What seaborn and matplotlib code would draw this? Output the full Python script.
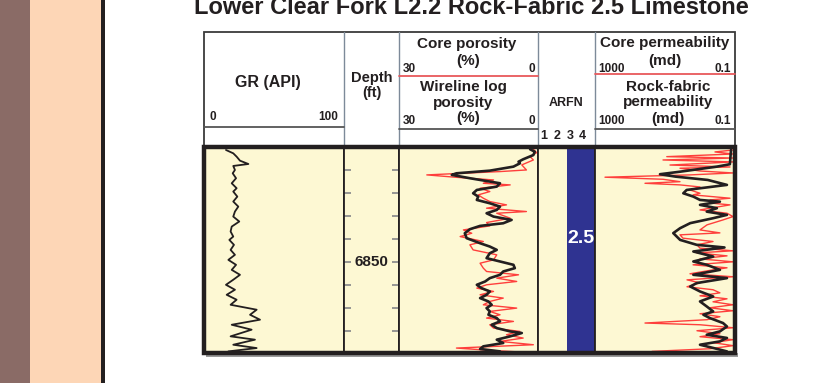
import matplotlib
matplotlib.use("Agg")
import matplotlib.pyplot as plt
from matplotlib.patches import Rectangle
import seaborn as sns

TITLE = "Lower Clear Fork L2.2 Rock-Fabric 2.5 Limestone"

# depth window (ft) and depth-track ticks
DEPTH_TOP = 6840.0
DEPTH_BASE = 6857.94
depth_ticks = [6842, 6844, 6846, 6848, 6850, 6852, 6854, 6856]
depth_label = 6850

# gamma ray (API)
gr_depth = [6840.26, 6840.55, 6840.84, 6841.19, 6841.48, 6841.65, 6842.00, 6842.29, 6842.72,
            6843.16, 6843.59, 6843.88, 6844.32, 6844.75, 6845.19, 6845.62, 6846.06, 6846.49,
            6846.93, 6847.36, 6847.80, 6848.09, 6848.52, 6848.96, 6849.39, 6849.83, 6850.26,
            6850.70, 6851.13, 6851.56, 6852.00, 6852.43, 6852.87, 6853.30, 6853.74, 6854.17,
            6854.61, 6855.04, 6855.48, 6855.91, 6856.49, 6856.78, 6857.22, 6857.51, 6857.80]
gr_api = [15.7, 20.9, 23.3, 25.7, 31.7, 20.9, 22.1, 20.5, 22.9,
          19.8, 23.3, 20.9, 23.8, 20.9, 24.5, 22.1, 20.9, 25.2,
          19.8, 19.0, 20.9, 18.1, 21.4, 19.0, 22.1, 17.4, 22.9,
          19.8, 25.7, 20.9, 15.7, 22.1, 16.2, 23.3, 19.0, 37.6,
          32.9, 40.0, 19.8, 34.0, 19.0, 36.4, 20.9, 37.6, 17.4]

# wireline log porosity (%)
log_por_depth = [6840.20, 6840.41, 6840.70, 6841.07, 6841.28, 6841.42, 6841.71, 6842.06, 6842.29,
                 6842.43, 6842.72, 6843.01, 6843.16, 6843.45, 6843.74, 6844.03, 6844.32, 6844.61,
                 6844.90, 6845.19, 6845.48, 6845.77, 6846.06, 6846.35, 6846.64, 6846.87, 6847.16,
                 6847.51, 6847.94, 6848.38, 6848.67, 6848.96, 6849.25, 6849.68, 6849.97, 6850.26,
                 6850.55, 6850.84, 6851.13, 6851.42, 6851.71, 6852.00, 6852.29, 6852.58, 6852.87,
                 6853.16, 6853.45, 6853.74, 6854.03, 6854.32, 6854.61, 6854.90, 6855.19, 6855.48,
                 6855.77, 6856.06, 6856.20, 6856.49, 6856.78, 6857.07, 6857.36, 6857.59, 6857.80]
log_por = [1.7, 0.7, 1.0, 3.2, 4.2, 3.9, 5.3, 10.4, 17.6,
           18.6, 14.7, 10.4, 8.2, 8.9, 13.2, 14.0, 12.9, 13.2,
           10.4, 8.2, 8.9, 11.1, 9.6, 5.7, 7.5, 12.5, 14.7,
           15.8, 15.4, 12.5, 10.4, 8.9, 10.4, 11.1, 8.2, 5.3,
           5.0, 7.5, 8.2, 10.4, 11.4, 13.2, 12.2, 10.4, 11.1,
           12.5, 10.7, 10.0, 11.1, 10.4, 10.7, 8.9, 8.2, 10.0,
           8.9, 6.0, 3.5, 6.0, 8.9, 7.5, 11.8, 12.5, 8.2]

# core porosity (%)
core_por_depth = [6840.20, 6840.49, 6840.84, 6841.13, 6841.56, 6842.00, 6842.14, 6842.43, 6842.64,
                  6842.87, 6843.16, 6843.30, 6843.59, 6843.88, 6844.17, 6844.46, 6844.75, 6845.04,
                  6845.33, 6845.62, 6845.77, 6846.20, 6846.58, 6846.87, 6847.22, 6847.51, 6847.80,
                  6848.23, 6848.52, 6848.96, 6849.39, 6849.83, 6850.12, 6850.55, 6850.84, 6851.13,
                  6851.42, 6851.71, 6852.00, 6852.29, 6852.58, 6852.87, 6853.16, 6853.45, 6853.74,
                  6854.03, 6854.32, 6854.61, 6854.90, 6855.19, 6855.48, 6855.77, 6856.06, 6856.35,
                  6856.64, 6856.93, 6857.22, 6857.51, 6857.71, 6857.86]
core_por = [1.0, 0.3, 1.7, 1.0, 3.5, 2.5, 8.2, 24.0, 17.6,
            9.6, 11.8, 6.0, 12.5, 10.4, 12.9, 11.8, 10.4, 6.8,
            11.1, 2.5, 8.9, 6.0, 11.1, 10.4, 16.1, 14.3, 16.8,
            11.8, 14.7, 14.0, 8.9, 9.6, 12.5, 11.8, 11.1, 4.2,
            8.9, 4.6, 11.1, 13.2, 9.6, 12.5, 7.5, 10.4, 11.8,
            4.6, 10.4, 8.2, 11.1, 5.3, 10.4, 9.6, 3.9, 6.8,
            3.2, 8.2, 1.0, 17.6, 10.4, 3.5]

# rock-fabric permeability (md)
rf_perm_depth = [6840.26, 6841.50, 6841.71, 6842.15, 6842.37, 6842.58, 6842.87, 6843.30, 6843.74,
                 6844.03, 6844.32, 6844.61, 6844.76, 6845.04, 6845.33, 6845.63, 6845.91, 6846.20,
                 6846.63, 6847.07, 6847.50, 6848.09, 6848.52, 6848.75, 6849.10, 6849.54, 6849.97,
                 6850.26, 6850.70, 6851.13, 6851.42, 6851.85, 6852.15, 6852.58, 6853.02, 6853.45,
                 6853.89, 6854.32, 6854.61, 6854.90, 6855.33, 6855.63, 6856.06, 6856.35, 6856.63,
                 6856.93, 6857.22, 6857.50, 6857.80]
rf_perm = [0.13, 0.14, 0.33, 3.7, 13.9, 5.0, 0.6, 0.17, 2.4,
           3.0, 1.55, 1.0, 0.27, 1.0, 0.33, 0.64, 0.17, 0.42,
           1.9, 3.7, 5.8, 3.7, 1.24, 0.2, 1.55, 0.42, 1.55,
           0.64, 0.27, 1.55, 0.17, 1.24, 1.9, 1.0, 0.42, 1.0,
           0.64, 0.42, 0.8, 0.52, 0.22, 0.17, 0.27, 0.64, 0.17,
           0.27, 1.0, 0.42, 0.17]

# core permeability (md)
core_perm_depth = [6840.26, 6840.43, 6840.61, 6840.84, 6840.96, 6841.13, 6841.30, 6841.57, 6841.74,
                   6841.85, 6842.09, 6842.26, 6842.43, 6842.63, 6842.81, 6843.02, 6843.16, 6843.30,
                   6843.48, 6843.74, 6844.03, 6844.17, 6844.46, 6844.61, 6844.90, 6845.04, 6845.48,
                   6845.77, 6846.06, 6846.35, 6846.78, 6847.22, 6847.48, 6847.65, 6847.94, 6848.23,
                   6848.52, 6848.81, 6849.04, 6849.22, 6849.48, 6849.74, 6850.00, 6850.26, 6850.52,
                   6850.70, 6851.04, 6851.30, 6851.57, 6851.83, 6852.17, 6852.43, 6852.70, 6852.96,
                   6853.22, 6853.48, 6853.74, 6854.00, 6854.26, 6854.52, 6854.78, 6855.04, 6855.33,
                   6855.48, 6855.74, 6856.00, 6856.26, 6856.52, 6856.78, 6857.04, 6857.30, 6857.57,
                   6857.80, 6857.91]
core_perm = [0.114, 0.373, 0.114, 8.9, 0.114, 11.4, 0.114, 7.2, 0.139,
             3.73, 1.0, 0.114, 1.93, 518.0, 11.4, 3.73, 37.3, 3.73,
             1.0, 1.93, 1.0, 1.58, 0.139, 0.518, 0.425, 0.139, 1.0,
             0.169, 0.114, 0.22, 0.63, 1.0, 0.27, 3.73, 3.06, 0.425,
             1.22, 1.0, 0.114, 1.22, 0.169, 1.0, 0.114, 1.58, 0.169,
             0.425, 1.93, 0.114, 2.35, 1.0, 2.35, 0.425, 0.27, 1.0,
             0.169, 0.425, 0.114, 0.518, 0.114, 1.0, 0.27, 0.63, 37.3,
             1.0, 0.114, 1.22, 0.27, 1.0, 0.114, 0.425, 0.114, 0.518,
             23.5, 1.0]

# rock-fabric number for the interval
arfn_value = 2.5
arfn_scale = [1, 2, 3, 4]

# colours
INK = "#231f20"
PANEL = "#fdf8d3"
RED = "#ff2b2b"
CORE_LINE = "#e8585b"
BAR = "#2f3391"

sns.set_theme(style="white")
plt.rcParams["font.family"] = ["Liberation Sans", "DejaVu Sans"]

W, H = 822, 383
fig = plt.figure(figsize=(W / 100, H / 100), dpi=100)


def frac(x0, y0, x1, y1):
    return [x0 / W, 1 - y1 / H, (x1 - x0) / W, (y1 - y0) / H]


# track edges (pixels)
X_GR, X_DEP, X_POR, X_ARF, X_PRM, X_END = 204, 344, 399, 538, 595, 735
Y_HEAD, Y_DATA, Y_BASE = 32, 147, 353

# ---- page background, title and header block ----
bg = fig.add_axes([0, 0, 1, 1], zorder=0)
bg.set_xlim(0, W)
bg.set_ylim(H, 0)
bg.axis("off")
bg.add_patch(Rectangle((0, 0), 30, H, color="#8a6b66", lw=0))
bg.add_patch(Rectangle((30, 0), 71, H, color="#fdd6b6", lw=0))
bg.add_patch(Rectangle((101, 0), 3.5, H, color=INK, lw=0))
bg.text(471, 14.5, TITLE, ha="center", va="baseline", fontsize=17,
        fontweight="bold", color=INK)

bg.add_patch(Rectangle((X_GR, Y_HEAD), X_END - X_GR, Y_DATA - Y_HEAD,
                       facecolor="white", edgecolor="#3a3a3a", lw=1.3))
for xd in (X_DEP, X_POR, X_ARF, X_PRM):
    bg.plot([xd, xd], [Y_HEAD, Y_DATA], color="#7d8a99", lw=1)
bg.plot([X_GR, X_DEP], [127, 127], color="#555555", lw=1.3)
bg.plot([X_POR, X_ARF], [129, 129], color="#555555", lw=1.3)
bg.plot([X_PRM, X_END], [129.3, 129.3], color="#555555", lw=1.3)
bg.plot([X_POR, X_ARF], [75.7, 75.7], color=CORE_LINE, lw=1.3)
bg.plot([X_PRM, X_END], [74.3, 74.3], color=CORE_LINE, lw=1.3)

lab = dict(fontweight="bold", color=INK, va="center")
big, small = 11, 8.5
bg.text(268, 83, "GR (API)", ha="center", fontsize=11.5, **lab)
bg.text(209, 117, "0", ha="left", fontsize=small, **lab)
bg.text(338, 117, "100", ha="right", fontsize=small, **lab)

bg.text(372, 78, "Depth", ha="center", fontsize=10.5, **lab)
bg.text(372, 92.5, "(ft)", ha="center", fontsize=10.5, **lab)

bg.text(467, 44, "Core porosity", ha="center", fontsize=big, **lab)
bg.text(468, 61.5, "(%)", ha="center", fontsize=big, **lab)
bg.text(403, 69.5, "30", ha="left", fontsize=small, **lab)
bg.text(535, 69.5, "0", ha="right", fontsize=small, **lab)
bg.text(463, 87, "Wireline log", ha="center", fontsize=big, **lab)
bg.text(463, 103.5, "porosity", ha="center", fontsize=big, **lab)
bg.text(468, 118, "(%)", ha="center", fontsize=big, **lab)
bg.text(403, 120.5, "30", ha="left", fontsize=small, **lab)
bg.text(535, 120.5, "0", ha="right", fontsize=small, **lab)

bg.text(566.5, 102.5, "ARFN", ha="center", fontsize=9, **lab)
for xv, n in zip((544, 557.5, 570, 582.5), arfn_scale):
    bg.text(xv, 136, str(n), ha="center", fontsize=9, **lab)

bg.text(664.5, 43.5, "Core permeability", ha="center", fontsize=big, **lab)
bg.text(665, 61, "(md)", ha="center", fontsize=big, **lab)
bg.text(598, 69.5, "1000", ha="left", fontsize=small, **lab)
bg.text(731, 69.5, "0.1", ha="right", fontsize=small, **lab)
bg.text(668, 87, "Rock-fabric", ha="center", fontsize=big, **lab)
bg.text(668, 102, "permeability", ha="center", fontsize=big, **lab)
bg.text(668, 119.5, "(md)", ha="center", fontsize=big, **lab)
bg.text(598, 120.5, "1000", ha="left", fontsize=small, **lab)
bg.text(731, 120.5, "0.1", ha="right", fontsize=small, **lab)

# soft shadow under the log panel
bg.add_patch(Rectangle((X_GR + 2, Y_BASE), X_END - X_GR + 1, 3.5, color="#9a9a9a", lw=0))


# ---- data tracks ----
def track(x0, x1):
    ax = fig.add_axes(frac(x0, Y_DATA, x1, Y_BASE), zorder=1)
    ax.set_facecolor(PANEL)
    for s in ax.spines.values():
        s.set_color(INK)
        s.set_linewidth(1.3)
    return ax


def finish(ax):
    ax.set_ylim(DEPTH_BASE, DEPTH_TOP)
    ax.set_xlabel("")
    ax.set_ylabel("")
    ax.set_xticks([])
    ax.set_yticks([])
    if ax.get_legend() is not None:
        ax.get_legend().remove()


line_kw = dict(orient="y", sort=False, estimator=None)

# gamma ray
ax_gr = track(X_GR, X_DEP)
sns.lineplot(x=gr_api, y=gr_depth, color=INK, lw=1.3, ax=ax_gr, **line_kw)
finish(ax_gr)
ax_gr.set_xlim(0, 100)

# depth track
ax_dep = track(X_DEP, X_POR)
finish(ax_dep)
ax_dep.set_xlim(0, 1)
ax_dep.set_yticks(depth_ticks)
ax_dep.tick_params(axis="y", which="major", direction="in", length=5, width=1.3,
                   color="#8e8e8e", left=True, right=True, labelleft=False, labelright=False)
ax_dep.text(0.5, depth_label, str(depth_label), transform=ax_dep.get_yaxis_transform(),
            ha="center", va="center", fontsize=11, fontweight="bold", color=INK)

# porosity track (30 -> 0 %)
ax_por = track(X_POR, X_ARF)
sns.lineplot(x=core_por, y=core_por_depth, color=RED, lw=1.0, alpha=0.9, ax=ax_por, **line_kw)
sns.lineplot(x=log_por, y=log_por_depth, color=INK, lw=1.9, ax=ax_por, **line_kw)
finish(ax_por)
ax_por.set_xlim(30, 0)

# rock-fabric number track
ax_arf = track(X_ARF, X_PRM)
arfn_max = 4.5
ax_arf.barh(y=(DEPTH_TOP + DEPTH_BASE) / 2, width=arfn_max - arfn_value, left=arfn_value,
            height=DEPTH_BASE - DEPTH_TOP, color=BAR, lw=0)
finish(ax_arf)
ax_arf.set_xlim(0.5, arfn_max)
ax_arf.text((arfn_value + arfn_max) / 2, 6848.0, f"{arfn_value}", ha="center", va="center",
            fontsize=14, fontweight="bold", color="white")

# permeability track (1000 -> 0.1 md, log)
ax_prm = track(X_PRM, X_END)
ax_prm.set_xscale("log")
sns.lineplot(x=core_perm, y=core_perm_depth, color=RED, lw=1.0, alpha=0.9, ax=ax_prm, **line_kw)
sns.lineplot(x=rf_perm, y=rf_perm_depth, color=INK, lw=1.9, ax=ax_prm, **line_kw)
finish(ax_prm)
ax_prm.set_xlim(1000, 0.1)
ax_prm.minorticks_off()

# ---- heavy frame round the log panel ----
ov = fig.add_axes([0, 0, 1, 1], zorder=3)
ov.set_xlim(0, W)
ov.set_ylim(H, 0)
ov.axis("off")
ov.add_patch(Rectangle((X_GR, Y_DATA), X_END - X_GR, Y_BASE - Y_DATA,
                       fill=False, edgecolor=INK, lw=3.2))

fig.savefig("out.png", dpi=100)
